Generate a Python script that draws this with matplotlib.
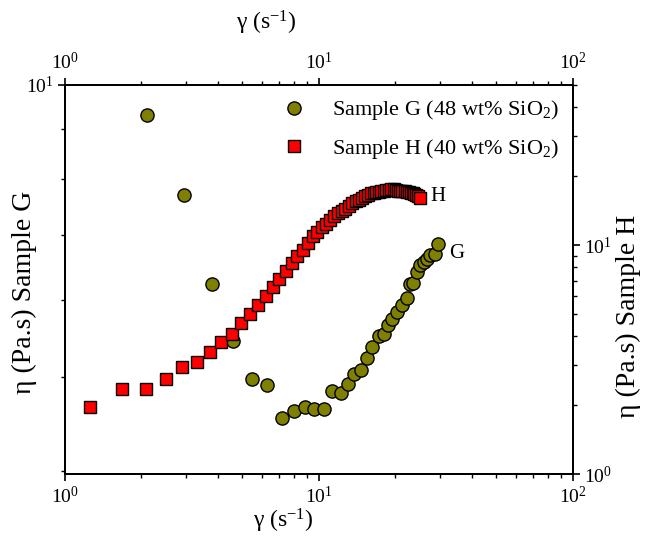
import matplotlib
matplotlib.use("Agg")
import matplotlib.pyplot as plt

plt.rcParams['font.family'] = ['Liberation Serif', 'DejaVu Serif']
plt.rcParams['mathtext.fontset'] = 'custom'
plt.rcParams['mathtext.rm'] = 'Liberation Serif'
plt.rcParams['mathtext.it'] = 'Liberation Serif:italic'

# Sample G (48 wt% SiO2) - left axis
rate_g = [2.11, 2.94, 3.78, 4.60, 5.46, 6.27, 7.16, 8.0, 8.83, 9.6, 10.5, 11.3,
          12.2, 13.0, 13.8, 14.6, 15.5, 16.2, 17.3, 18.0, 18.8, 19.5, 20.3, 21.3,
          22.3, 22.9, 23.6, 24.4, 25.1, 25.9, 26.7, 27.5, 28.7, 29.6]
eta_g = [9.31, 7.71, 6.24, 5.45, 4.98, 4.90, 4.53, 4.61, 4.65, 4.63, 4.63, 4.83,
         4.81, 4.92, 5.03, 5.08, 5.23, 5.37, 5.51, 5.53, 5.66, 5.74, 5.83, 5.93,
         6.03, 6.24, 6.25, 6.42, 6.52, 6.57, 6.62, 6.68, 6.70, 6.85]

# Sample H (40 wt% SiO2) - right axis
rate_h = [1.26, 1.67, 2.08, 2.49, 2.90, 3.31, 3.72, 4.13, 4.54, 4.95, 5.36, 5.77,
          6.18, 6.59, 7.0, 7.41, 7.82, 8.23, 8.64, 9.05, 9.46, 9.87, 10.28, 10.69,
          11.1, 11.51, 11.92, 12.33, 12.74, 13.15, 13.56, 13.97, 14.38, 14.79, 15.2,
          15.61, 16.02, 16.43, 16.84, 17.25, 17.66, 18.07, 18.48, 18.89, 19.3, 19.71,
          20.12, 20.53, 20.94, 21.35, 21.76, 22.17, 22.58, 22.99, 23.4, 23.81, 24.22,
          24.63, 25.04]
eta_h = [1.96, 2.34, 2.34, 2.61, 2.94, 3.08, 3.40, 3.78, 4.10, 4.57, 5.01, 5.48,
         6.0, 6.55, 7.11, 7.71, 8.33, 9.0, 9.5, 10.2, 10.9, 11.4, 12.0, 12.4,
         12.9, 13.4, 13.8, 14.1, 14.4, 14.8, 15.2, 15.5, 15.8, 16.1, 16.4,
         16.6, 16.8, 16.9, 17.0, 17.1, 17.2, 17.3, 17.4, 17.4, 17.5, 17.5,
         17.4, 17.3, 17.3, 17.2, 17.2, 17.1, 17.0, 16.9, 16.8, 16.7, 16.6,
         16.4, 16.0]

fig = plt.figure(figsize=(6.46, 5.43), dpi=100)
ax = fig.add_axes([0.1006, 0.127, 0.7858, 0.7165])
ax2 = ax.twinx()

g, = ax.plot(rate_g, eta_g, 'o', ms=9.5, mfc='#808000', mec='black', mew=1.0,
             label='Sample G (48 wt% SiO$_2$)')
h, = ax2.plot(rate_h, eta_h, 's', ms=9, mfc='#ff0000', mec='black', mew=1.0,
              label='Sample H (40 wt% SiO$_2$)')

ax.set_xscale('log')
ax.set_yscale('log')
ax2.set_yscale('log')
ax.set_xlim(1, 100)
ax.set_ylim(3.97, 10)
ax2.set_ylim(1, 50)

ax.yaxis.set_minor_formatter(plt.NullFormatter())
ax2.yaxis.set_minor_formatter(plt.NullFormatter())

for a in (ax, ax2):
    for s in a.spines.values():
        s.set_linewidth(1.4)
    a.tick_params(which='major', direction='out', length=5, width=1.2, labelsize=14)
    a.tick_params(which='minor', direction='out', length=3, width=1.0)
ax.tick_params(axis='x', which='both', top=True, labeltop=True)

ax.set_xlabel('γ (s$^{-1}$)', fontsize=17)
ax.xaxis.set_label_coords(0.43, -0.085)
ax.set_ylabel('η (Pa.s) Sample G', fontsize=20)
ax.yaxis.set_label_coords(-0.055, 0.468)
ax2.set_ylabel('η (Pa.s) Sample H', fontsize=20, rotation=90)
ax2.yaxis.set_label_coords(1.085, 0.405)
fig.text(0.413, 0.958, 'γ (s$^{-1}$)', fontsize=17, ha='center', va='center')

ax2.text(25.04 * 1.1, 16.3, 'H', fontsize=15, va='center', ha='left')
ax.text(29.6 * 1.1, 6.85, 'G', fontsize=15, va='top', ha='left')

ax2.legend(handles=[g, h], loc='upper right', frameon=False, fontsize=16,
           handletextpad=0.7, borderaxespad=0.2, labelspacing=0.65)

fig.savefig('out.png', dpi=100)
